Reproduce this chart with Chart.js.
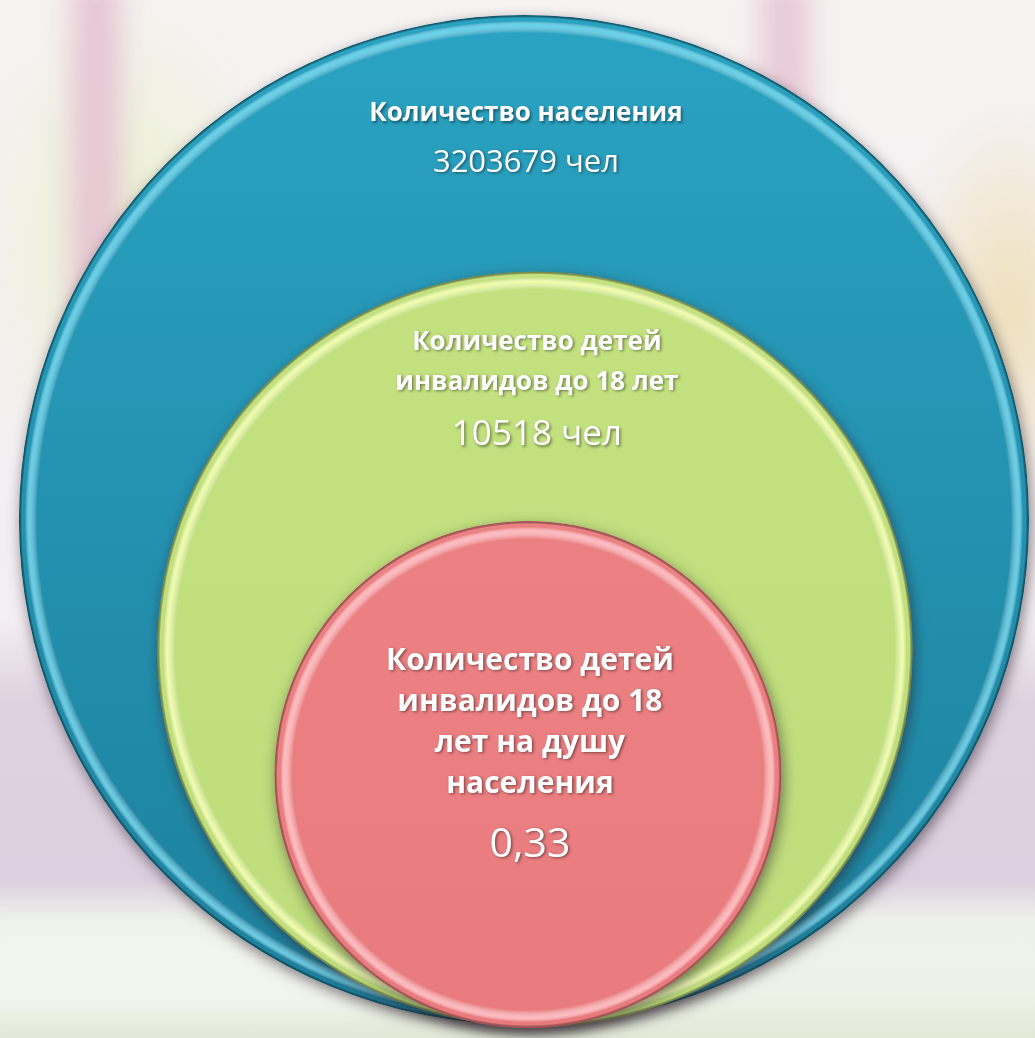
<!DOCTYPE html>
<html lang="ru">
<head>
<meta charset="UTF-8" />
<title>Дети-инвалиды до 18 лет</title>
<style>
  html, body { margin: 0; padding: 0; }
  body { width: 1035px; height: 1038px; overflow: hidden; position: relative;
    background: linear-gradient(180deg, #f6f3f3 0, #f3eef1 620px, #dfd2e0 700px, #dccfdf 880px, #eef1e9 920px, #edf2e7 995px, #e1e9d6 1038px); }
  .blob { position: absolute; filter: blur(14px); }
  #wrap { position: absolute; left: 0; top: 0; width: 1035px; height: 1038px; }
</style>
</head>
<body>
  <div class="blob" style="left:-40px;top:-20px;width:330px;height:520px;background:radial-gradient(closest-side,#eaf1cf,rgba(234,241,207,0));"></div>
  <div class="blob" style="left:72px;top:-20px;width:48px;height:620px;background:#e6c5d3;"></div>
  <div class="blob" style="left:760px;top:-20px;width:50px;height:320px;background:#e8cad6;"></div>
  <div class="blob" style="left:900px;top:100px;width:220px;height:420px;background:radial-gradient(closest-side,#eedfb9,rgba(238,223,185,0));"></div>
  <div class="blob" style="left:-30px;top:930px;width:420px;height:80px;background:#f2f4ee;"></div>

  <div id="wrap"><canvas id="circles"></canvas></div>

  <script src="https://cdn.jsdelivr.net/npm/chart.js"></script>
  <script>
    // nested circles: population -> disabled children -> per capita
    const titles = [
      ['Количество населения'],
      ['Количество детей', 'инвалидов до 18 лет'],
      ['Количество детей', 'инвалидов до 18', 'лет на душу', 'населения']
    ];
    const values = ['3203679 чел', '10518 чел', '0,33'];

    // circle centres and radii in chart units
    const centerX = [524, 535, 528];
    const centerY = [520, 650, 776];
    const radii = [508, 380, 255];

    const palette = [
      { top: '#2aa3c2', bottom: '#1c809d', light: 'rgba(110,220,245,0.85)', rim: 'rgba(12,80,100,0.95)' },
      { top: '#c3e17f', bottom: '#bfdd7b', light: 'rgba(245,255,170,0.95)', rim: 'rgba(110,120,60,0.9)' },
      { top: '#ec8183', bottom: '#e97b7e', light: 'rgba(255,190,195,0.95)', rim: 'rgba(170,80,85,0.9)' }
    ];

    const textLayout = [
      { first: 99, lineH: 40, gap: 49, titleFont: 'bold 26px "Open Sans"', valueFont: '31px "Open Sans"' },
      { first: 71, lineH: 40, gap: 53, titleFont: 'bold 26px "Open Sans"', valueFont: '35px "Open Sans"' },
      { first: 140, lineH: 41, gap: 61, titleFont: 'bold 30px "Open Sans"', valueFont: '41px "Open Sans"' }
    ];

    function circlePx(chart, i) {
      const xs = chart.scales.x, ys = chart.scales.y;
      if (!xs || !ys) return null;
      const p = {
        x: xs.getPixelForValue(centerX[i]),
        y: ys.getPixelForValue(centerY[i]),
        r: xs.getPixelForValue(radii[i]) - xs.getPixelForValue(0)
      };
      return (isFinite(p.x) && isFinite(p.y) && isFinite(p.r) && p.r > 0) ? p : null;
    }

    function fillFor(c) {
      const fallback = palette[c.dataIndex || 0].top;
      if (c.type !== 'data') return fallback;
      const chart = c.chart, i = c.dataIndex, p = palette[i];
      const pos = circlePx(chart, i);
      if (!pos || !chart.width) return fallback;
      const { x, y, r } = pos;
      const off = document.createElement('canvas');
      off.width = chart.width; off.height = chart.height;
      const g = off.getContext('2d');
      const lin = g.createLinearGradient(0, y - r, 0, y + r);
      lin.addColorStop(0, p.top);
      lin.addColorStop(1, p.bottom);
      g.beginPath(); g.arc(x, y, r, 0, Math.PI * 2); g.fillStyle = lin; g.fill();
      const rad = g.createRadialGradient(x, y, 0, x, y, r);
      rad.addColorStop(0, 'rgba(255,255,255,0)');
      rad.addColorStop((r - 18) / r, 'rgba(255,255,255,0)');
      rad.addColorStop((r - 10) / r, p.light);
      rad.addColorStop((r - 6) / r, 'rgba(255,255,255,0)');
      rad.addColorStop((r - 3) / r, 'rgba(0,0,0,0)');
      rad.addColorStop(1, p.rim);
      g.fillStyle = rad; g.fill();
      return chart.ctx.createPattern(off, 'no-repeat');
    }

    function radiusFor(c) {
      if (c.type !== 'data') return 3;
      const pos = circlePx(c.chart, c.dataIndex);
      return pos ? pos.r : 3;
    }

    const shadowPlugin = {
      id: 'shadow',
      beforeDatasetDraw(chart) {
        const ctx = chart.ctx;
        ctx.save();
        ctx.shadowColor = 'rgba(40,30,40,0.55)';
        ctx.shadowBlur = 14;
        ctx.shadowOffsetX = 2;
        ctx.shadowOffsetY = 5;
      },
      afterDatasetDraw(chart) { chart.ctx.restore(); }
    };

    const textPlugin = {
      id: 'circleText',
      afterDatasetsDraw(chart) {
        const ctx = chart.ctx;
        ctx.save();
        ctx.textAlign = 'center';
        ctx.textBaseline = 'middle';
        ctx.fillStyle = '#ffffff';
        ctx.shadowColor = 'rgba(0,0,0,0.45)';
        ctx.shadowBlur = 3;
        ctx.shadowOffsetX = 1.5;
        ctx.shadowOffsetY = 1.5;
        titles.forEach((lines, i) => {
          const pos = circlePx(chart, i);
          if (!pos) return;
          const L = textLayout[i];
          const ty = pos.y - pos.r + L.first;
          ctx.font = L.titleFont;
          lines.forEach((line, k) => ctx.fillText(line, pos.x + 2, ty + k * L.lineH));
          ctx.font = L.valueFont;
          ctx.fillText(values[i], pos.x + 2, ty + (lines.length - 1) * L.lineH + L.gap);
        });
        ctx.restore();
      }
    };

    new Chart(document.getElementById('circles'), {
      type: 'scatter',
      data: {
        datasets: [{
          data: centerX.map((x, i) => ({ x: x, y: centerY[i] })),
          showLine: false,
          pointBackgroundColor: fillFor,
          pointBorderWidth: 0,
          pointRadius: radiusFor,
          pointHoverRadius: radiusFor,
          clip: false
        }]
      },
      options: {
        responsive: true,
        maintainAspectRatio: false,
        animation: false,
        events: [],
        layout: { padding: 0 },
        plugins: { legend: { display: false }, tooltip: { enabled: false } },
        scales: {
          x: { type: 'linear', min: 0, max: 1035, display: false },
          y: { type: 'linear', min: 0, max: 1038, reverse: true, display: false }
        }
      },
      plugins: [shadowPlugin, textPlugin]
    });
  </script>
</body>
</html>
